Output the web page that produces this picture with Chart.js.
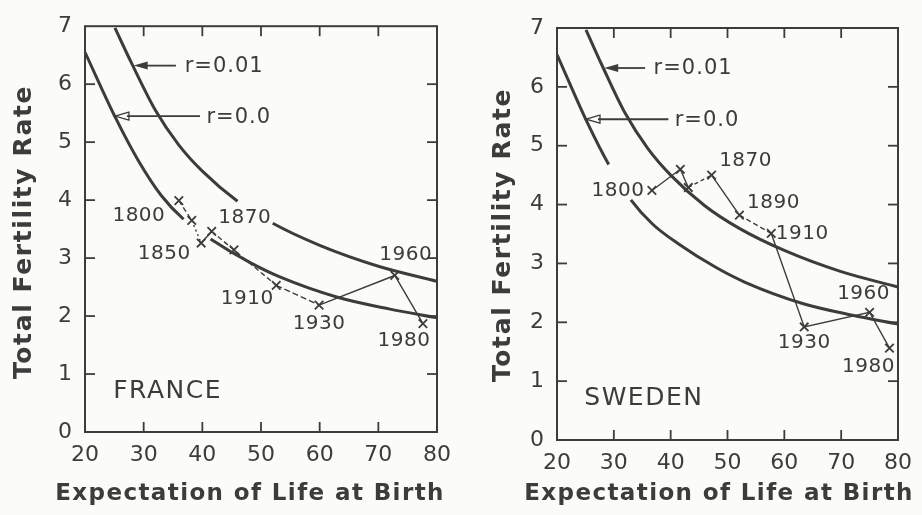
<!DOCTYPE html>
<html>
<head>
<meta charset="utf-8">
<script src="https://cdn.jsdelivr.net/npm/chart.js@4.4.1/dist/chart.umd.min.js"></script>
<style>
  html, body { margin: 0; padding: 0; background: #fbfbf8; }
  .panel { position: absolute; top: 0; width: 461px; height: 515px; }
  #left { left: 0; }
  #right { left: 461px; }
</style>
</head>
<body>
<div class="panel" id="left"><canvas id="franceChart" width="461" height="515"></canvas></div>
<div class="panel" id="right"><canvas id="swedenChart" width="461" height="515"></canvas></div>
<script>
const lifeTicks = [20, 30, 40, 50, 60, 70, 80];
const tfrTicks = [0, 1, 2, 3, 4, 5, 6, 7];

// replacement curves (same in both panels)
const r001Life = [25.1, 28, 32, 36, 40, 46, 52, 60, 70, 80];
const r001Tfr  = [6.97, 6.35, 5.55, 4.95, 4.50, 3.98, 3.60, 3.22, 2.86, 2.60];
const r000Life = [20, 25.3, 29.1, 33, 36.8, 41.4, 48, 53.1, 63.2, 72, 80];
const r000Tfr  = [6.55, 5.40, 4.68, 4.08, 3.67, 3.33, 2.93, 2.68, 2.32, 2.12, 1.97];

const franceLife  = [36.0, 38.2, 39.8, 41.6, 45.4, 52.6, 59.9, 72.8, 77.6];
const franceTfr   = [3.99, 3.65, 3.26, 3.46, 3.14, 2.53, 2.19, 2.70, 1.87];
const franceYears = ['1800', '', '1850', '1870', '', '1910', '1930', '1960', '1980'];

const swedenLife  = [36.7, 41.7, 43.1, 47.2, 52.1, 57.7, 63.5, 75.0, 78.5];
const swedenTfr   = [4.24, 4.60, 4.29, 4.50, 3.82, 3.51, 1.92, 2.17, 1.56];
const swedenYears = ['1800', '', '', '1870', '1890', '1910', '1930', '1960', '1980'];

const curveLabels = ['r=0.01', 'r=0.0'];

const ink = '#3c3c3c';
const font = 'DejaVu Sans';

// label offsets (px) from each point, dashed segments, and curve breaks left for labels
const franceLabelPos = [[-40, 15], null, [-37, 11], [33, -14], null, [-29, 13], [0, 19], [11, -21], [-19, 17]];
const swedenLabelPos = [[-34, 0], null, null, [34, -14], [34, -12], [31, 0], [0, 16], [-6, -18], [-21, 19]];
const franceDash = [[5, 3], [2, 3], [], [5, 3], [5, 3], [6, 3], [], []];
const swedenDash = [[], [], [4, 3], [], [5, 3], [], [], []];
const franceBreaks = { r001: [5], r000: [4] };
const swedenBreaks = { r001: [], r000: [2] };

function pts(xs, ys) {
  return xs.map((v, i) => ({ x: v, y: ys[i] }));
}

const decor = {
  id: 'decor',
  afterDraw(chart, args, o) {
    const { ctx, chartArea: a, scales: { x, y } } = chart;
    const line = (x1, y1, x2, y2) => { ctx.beginPath(); ctx.moveTo(x1, y1); ctx.lineTo(x2, y2); ctx.stroke(); };
    ctx.save();
    ctx.strokeStyle = ink;
    ctx.fillStyle = ink;

    // frame and inward ticks
    ctx.lineWidth = 2;
    ctx.strokeRect(a.left, a.top, a.right - a.left, a.bottom - a.top);
    ctx.lineWidth = 1.8;
    lifeTicks.slice(1, -1).forEach(v => {
      const px = x.getPixelForValue(v);
      line(px, a.bottom, px, a.bottom - 10);
      line(px, a.top, px, a.top + 10);
    });
    tfrTicks.slice(1, -1).forEach(v => {
      const py = y.getPixelForValue(v);
      line(a.left, py, a.left + 10, py);
      line(a.right, py, a.right - 10, py);
    });

    // arrows pointing at the two curves
    ctx.font = '21px "' + font + '"';
    ctx.textBaseline = 'middle';
    ctx.textAlign = 'left';
    ctx.letterSpacing = '1px';
    const arrows = [
      { tip: [28.3, 6.32], end: 35.5, text: 37.0, filled: true },
      { tip: [25.1, 5.45], end: 39.6, text: 40.7, filled: false }
    ];
    arrows.forEach((ar, i) => {
      const tx = x.getPixelForValue(ar.tip[0]);
      const ty = y.getPixelForValue(ar.tip[1]);
      const ex = x.getPixelForValue(ar.end);
      ctx.lineWidth = 1.8;
      line(tx + 12, ty, ex, ty);
      ctx.beginPath();
      ctx.moveTo(tx, ty);
      ctx.lineTo(tx + 14, ty - 4);
      ctx.lineTo(tx + 14, ty + 4);
      ctx.closePath();
      if (ar.filled) ctx.fill(); else { ctx.lineWidth = 1.3; ctx.stroke(); }
      ctx.fillText(curveLabels[i], x.getPixelForValue(ar.text), ty + 1);
    });

    // year labels
    ctx.font = '20px "' + font + '"';
    ctx.textAlign = 'center';
    ctx.letterSpacing = '0.5px';
    const meta = chart.getDatasetMeta(2);
    o.years.forEach((t, i) => {
      if (!t || !o.labelPos[i]) return;
      const p = meta.data[i];
      ctx.fillText(t, p.x + o.labelPos[i][0], p.y + o.labelPos[i][1]);
    });

    // country name
    ctx.font = '25px "' + font + '"';
    ctx.textAlign = 'left';
    ctx.letterSpacing = '1.5px';
    ctx.fillText(o.country, x.getPixelForValue(24.8), y.getPixelForValue(0.7));

    // axis titles
    ctx.font = 'bold 23px "' + font + '"';
    ctx.textAlign = 'center';
    ctx.letterSpacing = '1.4px';
    ctx.fillText('Expectation of Life at Birth', o.xTitle[0], o.xTitle[1]);
    ctx.translate(o.yTitle[0], o.yTitle[1]);
    ctx.rotate(-Math.PI / 2);
    ctx.font = 'bold 25px "' + font + '"';
    ctx.letterSpacing = '1.6px';
    ctx.fillText('Total Fertility Rate', 0, 0);
    ctx.restore();
  }
};

function curve(xs, ys, breaks) {
  return {
    data: pts(xs, ys),
    showLine: true,
    borderColor: ink,
    borderWidth: 3,
    pointRadius: 0,
    cubicInterpolationMode: 'monotone',
    segment: {
      borderColor: c => breaks.includes(c.p0DataIndex) ? 'rgba(0,0,0,0)' : ink
    }
  };
}

function makeChart(id, life, tfr, years, labelPos, dash, breaks, o) {
  return new Chart(document.getElementById(id), {
    type: 'scatter',
    data: {
      datasets: [
        curve(r001Life, r001Tfr, breaks.r001),
        curve(r000Life, r000Tfr, breaks.r000),
        {
          data: pts(life, tfr),
          showLine: true,
          borderColor: ink,
          borderWidth: 1.4,
          pointStyle: 'crossRot',
          pointRadius: 6,
          pointBorderWidth: 1.8,
          pointBorderColor: ink,
          segment: {
            borderDash: c => dash[c.p0DataIndex] || []
          }
        }
      ]
    },
    options: {
      responsive: false,
      animation: false,
      layout: { padding: { top: o.top, right: o.right, left: 0, bottom: 0 } },
      plugins: {
        legend: { display: false },
        tooltip: { enabled: false },
        decor: { years: years, labelPos: labelPos, country: o.country, xTitle: o.xTitle, yTitle: o.yTitle }
      },
      scales: {
        x: {
          type: 'linear',
          min: 20,
          max: 80,
          afterFit(s) { s.height = o.xAxisHeight; },
          afterBuildTicks(s) { s.ticks = lifeTicks.map(v => ({ value: v })); },
          grid: { display: false, drawTicks: false },
          border: { display: false },
          ticks: { color: ink, font: { family: font, size: 22 }, padding: 10, autoSkip: false, maxRotation: 0 }
        },
        y: {
          type: 'linear',
          min: 0,
          max: 7,
          afterFit(s) { s.width = o.yAxisWidth; },
          afterBuildTicks(s) { s.ticks = tfrTicks.map(v => ({ value: v })); },
          grid: { display: false, drawTicks: false },
          border: { display: false },
          ticks: { color: ink, font: { family: font, size: 22 }, padding: 13, autoSkip: false }
        }
      }
    },
    plugins: [decor]
  });
}

makeChart('franceChart', franceLife, franceTfr, franceYears, franceLabelPos, franceDash, franceBreaks, {
  top: 20, right: 21, yAxisWidth: 85, xAxisHeight: 83,
  country: 'FRANCE', xTitle: [250, 494], yTitle: [24, 232]
});
makeChart('swedenChart', swedenLife, swedenTfr, swedenYears, swedenLabelPos, swedenDash, swedenBreaks, {
  top: 28, right: 13, yAxisWidth: 96, xAxisHeight: 75,
  country: 'SWEDEN', xTitle: [258, 494], yTitle: [42, 235]
});
</script>
</body>
</html>
